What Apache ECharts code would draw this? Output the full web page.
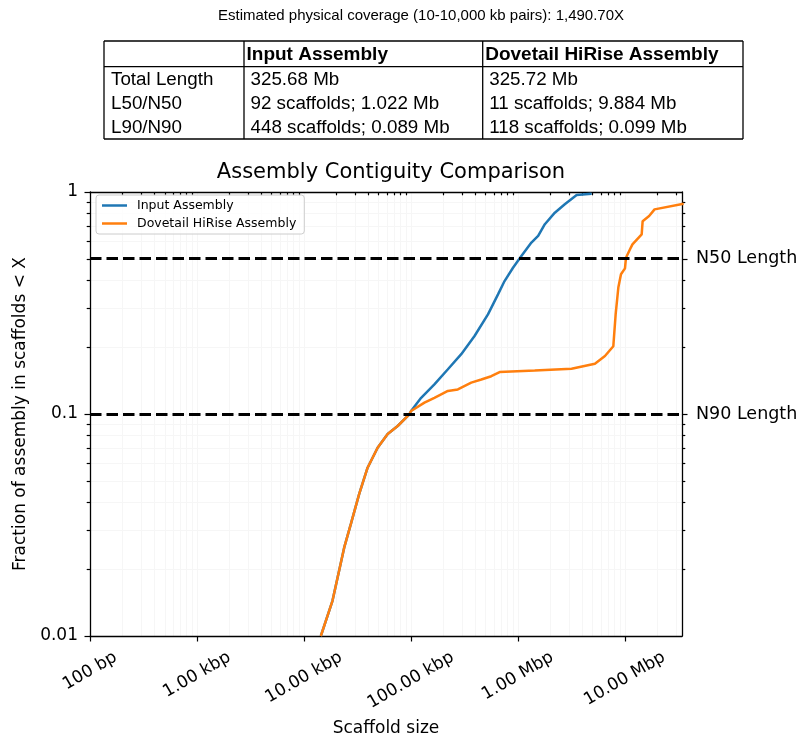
<!DOCTYPE html>
<html><head><meta charset="utf-8">
<script src="https://cdn.jsdelivr.net/npm/echarts@6/dist/echarts.min.js"></script>
<style>html,body{margin:0;padding:0;background:#fff}#c{width:800px;height:740px}</style>
</head><body><div id="c"></div>
<script>
// ---------- data ----------
const coverageText = 'Estimated physical coverage (10-10,000 kb pairs): 1,490.70X';
const tableHeader = ['', 'Input Assembly', 'Dovetail HiRise Assembly'];
const tableRowLabels = ['Total Length', 'L50/N50', 'L90/N90'];
const tableInput = ['325.68 Mb', '92 scaffolds; 1.022 Mb', '448 scaffolds; 0.089 Mb'];
const tableHiRise = ['325.72 Mb', '11 scaffolds; 9.884 Mb', '118 scaffolds; 0.099 Mb'];

const inputSize = [14400, 18500, 23800, 27500, 32900, 39400, 48900, 60700, 75300, 96800, 100500, 124800, 166000, 222000, 296000, 394000, 526000, 653000, 752000, 902000, 1080000, 1340000, 1550000, 1790000, 2220000, 2750000, 3550000, 4900000];
const inputFrac = [0.0100, 0.0144, 0.0250, 0.0320, 0.0437, 0.0573, 0.0705, 0.0813, 0.0883, 0.0997, 0.1032, 0.1183, 0.136, 0.159, 0.186, 0.2245, 0.281, 0.346, 0.397, 0.456, 0.515, 0.592, 0.634, 0.716, 0.807, 0.881, 0.969, 0.982];

const hiriseSize = [14400, 18500, 23800, 27500, 32900, 39400, 48900, 60700, 75300, 96800, 100500, 134000, 166000, 222000, 275000, 367000, 456000, 565000, 676000, 1440000, 3180000, 5260000, 6530000, 7820000, 8220000, 8710000, 9220000, 10050000, 10270000, 11200000, 11800000, 14400000, 14700000, 16900000, 19000000, 35500000];
const hiriseFrac = [0.0100, 0.0144, 0.0250, 0.0320, 0.0437, 0.0573, 0.0705, 0.0813, 0.0883, 0.0997, 0.1032, 0.1125, 0.1183, 0.127, 0.129, 0.1384, 0.143, 0.148, 0.1545, 0.157, 0.160, 0.1685, 0.1825, 0.202, 0.281, 0.371, 0.426, 0.453, 0.506, 0.552, 0.581, 0.644, 0.739, 0.779, 0.835, 0.885];

const seriesNames = ['Input Assembly', 'Dovetail HiRise Assembly'];
const xTickValues = [100, 1000, 10000, 100000, 1000000, 10000000];
const xTickLabels = ['100 bp', '1.00 kbp', '10.00 kbp', '100.00 kbp', '1.00 Mbp', '10.00 Mbp'];
const yTickValues = [0.01, 0.1, 1];
const yTickLabels = ['0.01', '0.1', '1'];
const refLineValues = [0.5, 0.1];
const refLineLabels = ['N50 Length', 'N90 Length'];
const xRange = [100, 3.43e7];
const yRange = [0.01, 1];

// ---------- helpers ----------
const L = Math.log10;
const FONT = 'DejaVu Sans';
const TICK_FS = 17;
const near = (arr, v) => arr.findIndex(t => Math.abs(L(t) - v) < 1e-6);
function minorTicks(lo, hi) {
  const out = [];
  for (let n = Math.floor(L(lo)); n <= Math.ceil(L(hi)); n++) {
    for (let k = 2; k <= 9; k++) { const v = k * Math.pow(10, n); if (v > lo && v < hi) out.push(v); }
  }
  return out;
}
const minorX = minorTicks(xRange[0], xRange[1]);
const minorY = minorTicks(yRange[0], yRange[1]);
const minorYRight = minorY.filter(v => refLineValues.every(r => Math.abs(r - v) > 1e-9));

// x label layout (matplotlib-like: rotated 30deg, centred under tick, tops aligned)
const cv = document.createElement('canvas').getContext('2d');
cv.font = TICK_FS + 'px "' + FONT + '"';
const xw = xTickLabels.map(t => cv.measureText(t).width);
const wmin = Math.min(...xw);
const rich = {};
xTickLabels.forEach((t, i) => {
  const d = 0.25 * (xw[i] - wmin);
  rich['l' + i] = { fontFamily: FONT, fontSize: TICK_FS, color: '#000', padding: [1.732 * d, d, 0, 0] };
});

const gridColor = '#f6f6f6';
const axisLineStyle = { color: '#000', width: 1.3 };
const tickLine = { color: '#000', width: 1.2 };

// ---------- table graphic ----------
const tL = 104, tR = 743, tT = 41, tH = 66.7, tB = 139, c1 = 244, c2 = 482.7;
const g = [];
const ln = (x1, y1, x2, y2) => g.push({ type: 'line', shape: { x1, y1, x2, y2 }, style: { stroke: '#000', lineWidth: 1.3 }, silent: true });
ln(tL, tT, tR, tT); ln(tL, tB, tR, tB); ln(tL, tT, tL, tB); ln(tR, tT, tR, tB);
ln(tL, tH, tR, tH); ln(c1, tT, c1, tB); ln(c2, tT, c2, tB);
const txt = (x, y, text, bold) => g.push({ type: 'text', x, y, silent: true,
  style: { text, fontFamily: 'Liberation Sans', fontSize: bold ? 19 : 18.8, fontWeight: bold ? 'bold' : 'normal', fill: '#000', align: 'left', verticalAlign: 'middle' } });
txt(c1 + 2.5, 54.5, tableHeader[1], true);
txt(c2 + 2.5, 54.5, tableHeader[2], true);
const rowY = [80, 103.7, 127.5];
tableRowLabels.forEach((t, i) => {
  txt(tL + 7, rowY[i], t, false);
  txt(c1 + 6.5, rowY[i], tableInput[i], false);
  txt(c2 + 6.5, rowY[i], tableHiRise[i], false);
});
g.push({ type: 'text', x: 421, y: 16, silent: true,
  style: { text: coverageText, fontFamily: 'Liberation Sans', fontSize: 15, fill: '#000', align: 'center', verticalAlign: 'middle' } });

// ---------- chart ----------
const chart = echarts.init(document.getElementById('c'), null, { renderer: 'canvas' });
const xBase = { type: 'value', min: L(xRange[0]), max: L(xRange[1]), gridIndex: 0 };
const yBase = { type: 'value', min: L(yRange[0]), max: L(yRange[1]), gridIndex: 0 };

chart.setOption({
  animation: false,
  backgroundColor: '#fff',
  title: { text: 'Assembly Contiguity Comparison', left: 386, top: 157, textAlign: 'center',
    textStyle: { fontFamily: FONT, fontSize: 21, fontWeight: 'normal', color: '#000' } },
  grid: { left: 90, right: 118, top: 192, bottom: 104, containLabel: false, outerBoundsMode: 'none' },
  legend: {
    data: seriesNames, orient: 'vertical', left: 96, top: 195,
    icon: 'rect', itemWidth: 25, itemHeight: 2.5, itemGap: 5,
    textStyle: { fontFamily: FONT, fontSize: 12.5, color: '#000', padding: [0, 0, 0, 5] },
    borderColor: '#cccccc', borderWidth: 1, borderRadius: 3, padding: [4, 8, 4, 6],
    backgroundColor: 'rgba(255,255,255,0.8)'
  },
  xAxis: [
    Object.assign({}, xBase, {
      position: 'bottom', name: 'Scaffold size', nameLocation: 'middle', nameGap: 84, nameMoveOverlap: false,
      nameTextStyle: { fontFamily: FONT, fontSize: TICK_FS, color: '#000' },
      axisLine: { show: true, onZero: false, lineStyle: axisLineStyle },
      axisTick: { show: true, inside: false, length: 5.5, customValues: xTickValues.map(L), lineStyle: tickLine },
      axisLabel: { show: true, customValues: xTickValues.map(L), rotate: 30, align: 'center', verticalAlign: 'middle', margin: 35,
        formatter: v => { const i = near(xTickValues, v); return i < 0 ? '' : '{l' + i + '|' + xTickLabels[i] + '}'; }, rich },
      splitLine: { show: true, lineStyle: { color: gridColor, width: 1 } }
    }),
    Object.assign({}, xBase, {
      position: 'bottom', axisLine: { show: false },
      axisTick: { show: true, inside: false, length: 3.3, customValues: minorX.map(L), lineStyle: tickLine },
      axisLabel: { show: false }, splitLine: { show: true, lineStyle: { color: gridColor, width: 1 } }
    }),
    Object.assign({}, xBase, {
      position: 'top', axisLine: { show: true, onZero: false, lineStyle: axisLineStyle },
      axisTick: { show: false }, axisLabel: { show: false }, splitLine: { show: false }
    })
  ],
  yAxis: [
    Object.assign({}, yBase, {
      position: 'left', name: 'Fraction of assembly in scaffolds < X', nameLocation: 'middle', nameGap: 61, nameRotate: 90, nameMoveOverlap: false,
      nameTextStyle: { fontFamily: FONT, fontSize: TICK_FS, color: '#000' },
      axisLine: { show: true, onZero: false, lineStyle: axisLineStyle },
      axisTick: { show: true, inside: false, length: 5.5, customValues: yTickValues.map(L), lineStyle: tickLine },
      axisLabel: { show: true, customValues: yTickValues.map(L), margin: 12, fontFamily: FONT, fontSize: TICK_FS, color: '#000',
        formatter: v => { const i = near(yTickValues, v); return i < 0 ? '' : yTickLabels[i]; } },
      splitLine: { show: true, lineStyle: { color: gridColor, width: 1 } }
    }),
    Object.assign({}, yBase, {
      position: 'left', axisLine: { show: false },
      axisTick: { show: true, inside: false, length: 3.3, customValues: minorY.map(L), lineStyle: tickLine },
      axisLabel: { show: false }, splitLine: { show: true, lineStyle: { color: gridColor, width: 1 } }
    }),
    Object.assign({}, yBase, {
      position: 'right', axisLine: { show: true, onZero: false, lineStyle: axisLineStyle },
      axisTick: { show: true, inside: false, length: 5.5, customValues: refLineValues.map(L), lineStyle: tickLine },
      axisLabel: { show: true, customValues: refLineValues.map(L), margin: 14, fontFamily: FONT, fontSize: 17.5, color: '#000',
        formatter: v => { const i = near(refLineValues, v); return i < 0 ? '' : refLineLabels[i]; } },
      splitLine: { show: false }
    }),
    Object.assign({}, yBase, {
      position: 'right', axisLine: { show: false },
      axisTick: { show: true, inside: false, length: 3.3, customValues: minorYRight.map(L), lineStyle: tickLine },
      axisLabel: { show: false }, splitLine: { show: false }
    })
  ],
  series: [
    { type: 'line', name: seriesNames[0], xAxisIndex: 0, yAxisIndex: 0, symbol: 'none', showSymbol: false, clip: true,
      data: inputSize.map((s, i) => [L(s), L(inputFrac[i])]),
      lineStyle: { color: '#1f77b4', width: 2.5 }, itemStyle: { color: '#1f77b4' }, z: 3 },
    { type: 'line', name: seriesNames[1], xAxisIndex: 0, yAxisIndex: 0, symbol: 'none', showSymbol: false, clip: true,
      data: hiriseSize.map((s, i) => [L(s), L(hiriseFrac[i])]),
      lineStyle: { color: '#ff7f0e', width: 2.5 }, itemStyle: { color: '#ff7f0e' }, z: 4,
      markLine: { silent: true, symbol: ['none', 'none'], label: { show: false },
        lineStyle: { color: '#000', width: 3.2, type: [11.5, 5] }, emphasis: { disabled: true },
        data: refLineValues.map(v => ({ yAxis: L(v) })) } }
  ],
  graphic: g
});
</script>
</body></html>
